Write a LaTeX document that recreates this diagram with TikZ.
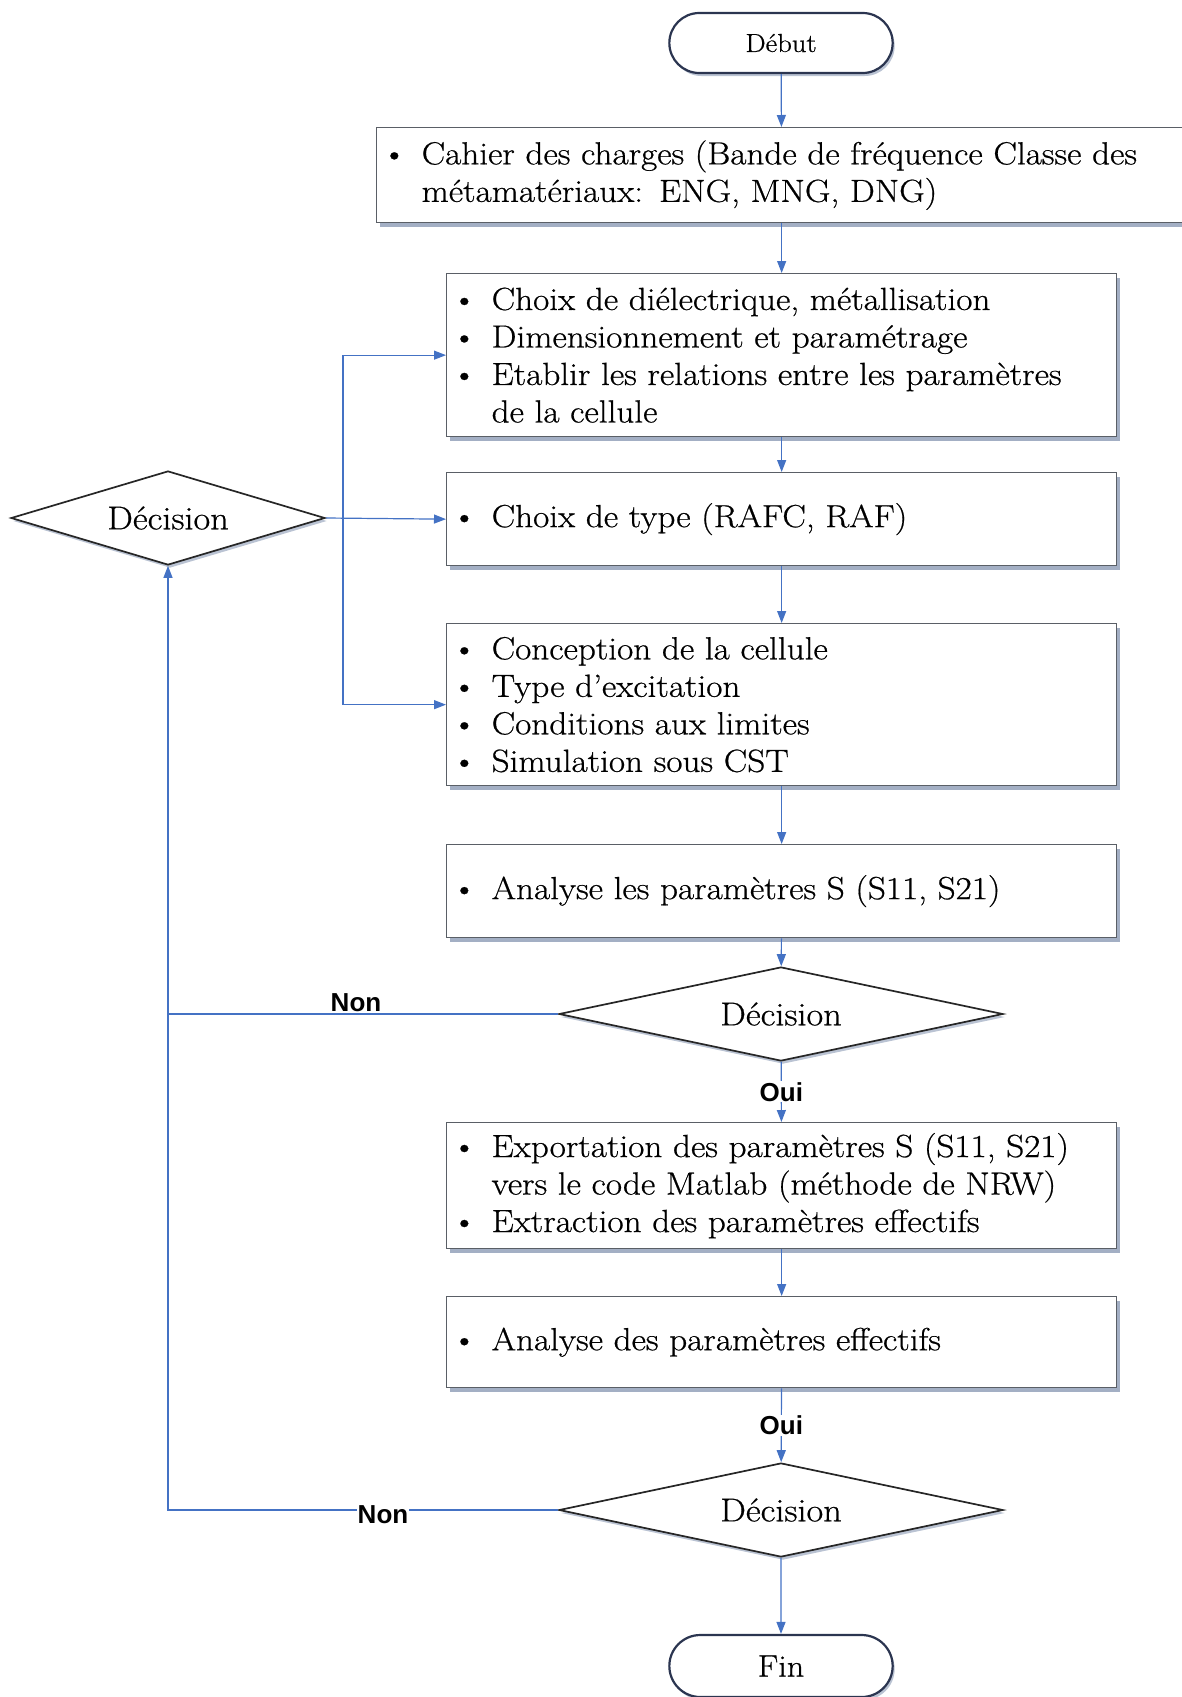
\documentclass[tikz,border=0pt]{standalone}
\usepackage{fontspec}
\setmainfont{Latin Modern Roman}[FakeStretch=1.1, FakeBold=0.6]
\newfontfamily\labfont{Liberation Sans}
\usetikzlibrary{shapes.geometric,shapes.misc,arrows.meta,shadows,calc}
\definecolor{arrblue}{HTML}{4472C4}
\definecolor{boxedge}{HTML}{5A5F66}
\definecolor{termedge}{HTML}{2B3550}
\definecolor{shadowc}{HTML}{8C9BB5}
\newcommand{\bitem}{\makebox[40pt][l]{\textbullet}}
\newcommand{\bcont}{\hspace*{40pt}}
\begin{document}
\begin{tikzpicture}[x=1pt,y=-1pt,
  box/.style={rectangle, draw=boxedge, line width=1.3pt, fill=white, anchor=north west,
    align=left, inner xsep=5pt, inner ysep=0pt, font=\fontsize{32}{37.5}\selectfont,
    drop shadow={shadow xshift=3pt, shadow yshift=-4pt, fill=shadowc, opacity=0.8}},
  dec/.style={diamond, draw=black!85, line width=1.7pt, fill=white, inner sep=0pt, aspect=4,
    font=\fontsize{33}{38}\selectfont,
    drop shadow={shadow xshift=2pt, shadow yshift=-3pt, fill=shadowc, opacity=0.6}},
  term/.style={rounded rectangle, draw=termedge, line width=2.2pt, fill=white,
    minimum width=230pt, minimum height=60pt,
    drop shadow={shadow xshift=2pt, shadow yshift=-3pt, fill=shadowc, opacity=0.6}},
  arr/.style={draw=arrblue, line width=1.2pt, -{Triangle[length=12pt,width=9pt]}},
  link/.style={draw=arrblue, line width=1.2pt},
  lab/.style={font=\labfont\bfseries\fontsize{26}{30}\selectfont, fill=white, inner sep=1pt}
]
\useasboundingbox (0,0) rectangle (1182,1697);

\node[term, font=\fontsize{26}{30}\selectfont] (debut) at (781,43) {Début};

\node[box, minimum width=810pt, text width=800pt, minimum height=95pt] (cahier) at (376,127)
  {\bitem Cahier des charges (Bande de fréquence Classe des\\ \bcont métamatériaux: ENG, MNG, DNG)};

\node[box, minimum width=670pt, text width=660pt, minimum height=163pt] (b2) at (446,273)
  {\bitem Choix de diélectrique, métallisation\\
   \bitem Dimensionnement et paramétrage\\
   \bitem Etablir les relations entre les paramètres\\
   \bcont de la cellule};

\node[box, minimum width=670pt, text width=660pt, minimum height=93pt] (b3) at (446,472)
  {\bitem Choix de type (RAFC, RAF)};

\node[box, minimum width=670pt, text width=660pt, minimum height=162pt] (b4) at (446,623)
  {\bitem Conception de la cellule\\
   \bitem Type d'excitation\\
   \bitem Conditions aux limites\\
   \bitem Simulation sous CST};

\node[box, minimum width=670pt, text width=660pt, minimum height=93pt] (b5) at (446,844)
  {\bitem Analyse les paramètres S (S11, S21)};

\node[dec, minimum width=444pt, minimum height=94pt] (d2) at (781,1014) {Décision};

\node[box, minimum width=670pt, text width=660pt, minimum height=126pt] (b6) at (446,1122)
  {\bitem Exportation des paramètres S (S11, S21)\\
   \bcont vers le code Matlab (méthode de NRW)\\
   \bitem Extraction des paramètres effectifs};

\node[box, minimum width=670pt, text width=660pt, minimum height=91pt] (b7) at (446,1296)
  {\bitem Analyse des paramètres effectifs};

\node[dec, minimum width=444pt, minimum height=94pt] (d3) at (781,1510) {Décision};

\node[term, minimum height=62pt, font=\fontsize{31}{35}\selectfont] (fin) at (781,1666) {Fin};

\node[dec, minimum width=314pt, minimum height=94pt] (d1) at (168,518) {Décision};

% main flow
\draw[arr] (debut) -- (cahier);
\draw[arr] (cahier) -- (b2);
\draw[arr] (b2) -- (b3);
\draw[arr] (b3) -- (b4);
\draw[arr] (b4) -- (b5);
\draw[arr] (b5) -- (d2);
\draw[arr] (d2) -- node[lab] {Oui} (b6);
\draw[arr] (b6) -- (b7);
\draw[arr] (b7) -- node[lab] {Oui} (d3);
\draw[arr] (d3) -- (fin);

% feedback loops
\draw[arr] (d3.west) -- (d3.west -| d1.south) -- (d1.south);
\draw[link] (d2.west) -- (d2.west -| d1.south);
\node[lab] (non1) at (356,1003) {Non};
\node[lab] (non2) at (383,1515) {Non};

\coordinate (j) at (343,518);
\draw[arr] (d1.east) -- (b3.west);
\draw[arr] (j) |- (b2.west);
\draw[arr] (j) |- (b4.west);
\end{tikzpicture}
\end{document}
